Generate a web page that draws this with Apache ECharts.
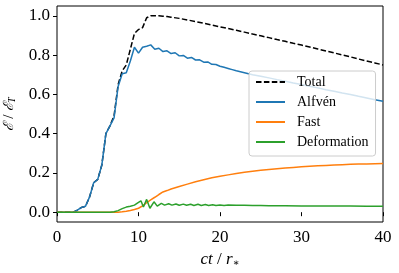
<!DOCTYPE html>
<html>
<head>
<meta charset="utf-8">
<script src="https://cdn.jsdelivr.net/npm/echarts@6/dist/echarts.min.js"></script>
<style>html,body{margin:0;padding:0;background:#fff}#c{width:399px;height:273px}</style>
</head>
<body>
<div id="c"></div>
<script>
// ---- data ----
const seriesNames = ['Total', 'Alfvén', 'Fast', 'Deformation'];
const xTicks = [0, 10, 20, 30, 40];
const yTicks = [0, 0.2, 0.4, 0.6, 0.8, 1.0];

const timeTotal = [0,0.5,1,1.5,2,2.5,3,3.5,4,4.5,5,5.5,6,6.5,7,7.5,8,8.5,9,9.5,10,10.5,11,11.5,12,12.5,13,13.5,14,
  15,16,17,18,19,20,21,22,23,24,25,26,27,28,29,30,31,32,33,34,35,36,37,38,39,40];
const total = [0,0,0,0,0,0.01,0.024,0.03,0.078,0.15,0.167,0.24,0.40,0.44,0.49,0.65,0.72,0.75,0.83,0.91,0.93,0.94,0.99,1.0,1.0,1.0,0.998,0.996,0.993,
  0.987,0.979,0.971,0.962,0.953,0.944,0.935,0.926,0.917,0.907,0.898,0.889,0.879,0.870,0.860,0.851,0.841,0.831,0.821,0.811,0.801,0.791,0.780,0.770,0.760,0.750];

const timeAlfven = [0,0.5,1,1.5,2,2.5,3,3.5,4,4.5,5,5.5,6,6.5,7,7.5,8,8.5,9,9.5,10,10.5,11,11.5,
  12,12.5,13,13.5,14,14.5,15,15.5,16,16.5,17,17.5,18,18.5,19,19.5,20,20.5,21,21.5,22,22.5,23,23.5,24,
  25,26,27,28,29,30,31,32,33,34,35,36,37,38,39,40];
const alfven = [0,0,0,0,0,0.01,0.024,0.03,0.078,0.15,0.167,0.24,0.40,0.44,0.48,0.64,0.705,0.71,0.77,0.84,0.81,0.84,0.845,0.852,
  0.83,0.835,0.818,0.822,0.808,0.812,0.796,0.798,0.784,0.788,0.775,0.776,0.764,0.765,0.753,0.752,0.743,0.738,0.732,0.726,0.72,0.715,0.71,0.705,0.70,
  0.692,0.684,0.675,0.667,0.658,0.65,0.641,0.633,0.624,0.616,0.607,0.599,0.59,0.582,0.573,0.565];

const timeFast = [0,1,2,3,4,5,6,7,7.5,8,8.5,9,9.5,10,10.5,11,11.5,12,12.5,13,13.5,14,
  15,16,17,18,19,20,21,22,23,24,25,26,27,28,29,30,31,32,33,34,35,36,37,38,39,40];
const fast = [0,0,0,0,0,0,0,0,0,0.002,0.005,0.009,0.014,0.02,0.032,0.048,0.063,0.076,0.09,0.103,0.11,0.118,
  0.131,0.143,0.155,0.165,0.175,0.183,0.19,0.197,0.203,0.208,0.213,0.217,0.221,0.225,0.228,0.231,0.234,0.236,0.238,0.24,0.242,0.244,0.245,0.246,0.247,0.248];

const timeDeform = [0,1,2,3,4,5,6,6.5,7,7.5,8,8.5,9,9.5,10,10.3,10.6,11.0,11.4,11.9,12.3,12.8,
  13.2,13.7,14.1,14.6,15.0,15.5,15.9,16.4,16.8,17.3,17.7,18.2,18.6,19.1,19.5,20,20.5,21,
  22,23,24,25,26,27,28,30,32,34,36,38,40];
const deform = [0,0,0,0,0,0,0,0,0.002,0.008,0.018,0.026,0.03,0.036,0.05,0.058,0.026,0.065,0.02,0.053,0.031,0.045,
  0.036,0.043,0.036,0.042,0.035,0.041,0.035,0.040,0.034,0.040,0.034,0.039,0.034,0.038,0.034,0.037,0.034,0.036,
  0.035,0.035,0.034,0.034,0.033,0.033,0.033,0.032,0.032,0.031,0.031,0.030,0.030];

// ---- chart ----
const pairs = (t, v) => t.map((x, i) => [x, v[i]]);
const SERIF = 'Liberation Serif, DejaVu Serif, serif';
const chart = echarts.init(document.getElementById('c'), null, {renderer: 'canvas'});

function lineSeries(name, t, v, color, type) {
  return {
    name, type: 'line', data: pairs(t, v), showSymbol: false, symbol: 'none',
    lineStyle: {color, width: 1.5, type: type || 'solid'},
    itemStyle: {color}, animation: false, silent: true
  };
}

chart.setOption({
  animation: false,
  grid: {left: 57, right: 16, top: 6, bottom: 51, containLabel: false, outerBoundsMode: 'none',
    show: true, borderColor: '#000', borderWidth: 1, backgroundColor: 'transparent'},
  xAxis: {
    type: 'value', min: xTicks[0], max: xTicks[xTicks.length - 1], interval: 10,
    axisLine: {show: false}, splitLine: {show: false},
    axisTick: {show: true, inside: false, length: 4, lineStyle: {color: '#000', width: 1}},
    axisLabel: {margin: 7, color: '#000', fontFamily: SERIF, fontSize: 17},
    name: '{i|ct}{n| / }{i|r}{s|∗}', nameLocation: 'middle', nameGap: 28,
    nameTextStyle: {
      rich: {
        i: {fontFamily: SERIF, fontStyle: 'italic', fontSize: 17, color: '#000'},
        n: {fontFamily: SERIF, fontSize: 17, color: '#000'},
        s: {fontFamily: SERIF, fontSize: 10, color: '#000', padding: [8, 0, 0, 0]}
      }
    }
  },
  yAxis: {
    type: 'value', min: -0.05, max: 1.05,
    axisLine: {show: false}, splitLine: {show: false},
    axisTick: {show: true, inside: false, length: 4, customValues: yTicks, lineStyle: {color: '#000', width: 1}},
    axisLabel: {margin: 7, color: '#000', fontFamily: SERIF, fontSize: 17, customValues: yTicks,
      formatter: v => v.toFixed(1)},
    name: '{e|ℰ}{n| / }{e|ℰ}{s|T}', nameLocation: 'middle', nameRotate: 90, nameGap: 33,
    nameTextStyle: {
      rich: {
        e: {fontFamily: 'DejaVu Serif', fontStyle: 'italic', fontSize: 14, color: '#000'},
        n: {fontFamily: SERIF, fontSize: 15, color: '#000'},
        s: {fontFamily: SERIF, fontStyle: 'italic', fontSize: 10, color: '#000', padding: [7, 0, 0, 0]}
      }
    }
  },
  legend: {
    data: seriesNames, orient: 'vertical', left: 249, top: 71,
    padding: [4, 7, 7, 6], itemGap: 6, itemWidth: 29, itemHeight: 14,
    backgroundColor: 'rgba(255,255,255,0.8)', borderColor: '#ccc', borderWidth: 1, borderRadius: 3,
    itemStyle: {opacity: 0},
    textStyle: {fontFamily: SERIF, fontSize: 14, color: '#000', padding: [0, 0, 0, 7]},
    selectedMode: false
  },
  series: [
    lineSeries(seriesNames[0], timeTotal, total, '#000000', [5.5, 2.4]),
    lineSeries(seriesNames[1], timeAlfven, alfven, '#1f77b4'),
    lineSeries(seriesNames[2], timeFast, fast, '#ff7f0e'),
    lineSeries(seriesNames[3], timeDeform, deform, '#2ca02c')
  ]
});
</script>
</body>
</html>
